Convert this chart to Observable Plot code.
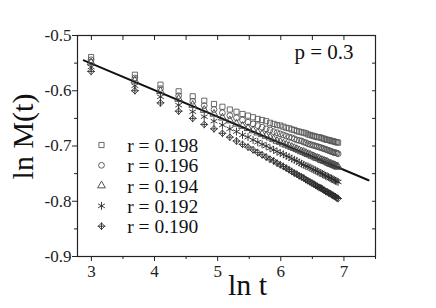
<!DOCTYPE html>
<html><head><meta charset="utf-8">
<script src="https://cdn.jsdelivr.net/npm/d3@7"></script>
<script src="https://cdn.jsdelivr.net/npm/@observablehq/plot@0.6"></script>
<style>body{margin:0;background:#fff}#chart svg{display:block}</style>
</head><body><div id="chart"></div>
<script>
const tValues = [20,40,60,80,100,120,140,160,180,200,220,240,260,280,300,320,340,360,380,400,420,440,460,480,500,520,540,560,580,600,620,640,660,680,700,720,740,760,780,800,820,840,860,880,900,920,940,960,980,1000];
const seriesLabels = ["r = 0.198","r = 0.196","r = 0.194","r = 0.192","r = 0.190"];
const seriesSymbols = ["square","circle","triangle","asterisk","diamond2"];
const seriesColors = ["#5a5a5a","#505050","#404040","#2a2a2a","#2a2a2a"];
const seriesSizes = [2.9, 2.9, 2.9, 3.7, 2.9];
const r198 = [-0.539,-0.571,-0.589,-0.601,-0.610,-0.618,-0.624,-0.629,-0.634,-0.638,-0.642,-0.645,-0.648,-0.651,-0.653,-0.655,-0.658,-0.660,-0.662,-0.663,-0.665,-0.667,-0.668,-0.670,-0.671,-0.673,-0.674,-0.675,-0.676,-0.677,-0.679,-0.680,-0.681,-0.682,-0.683,-0.684,-0.684,-0.685,-0.686,-0.687,-0.688,-0.689,-0.689,-0.690,-0.691,-0.691,-0.692,-0.693,-0.693,-0.694];
const r196 = [-0.544,-0.577,-0.596,-0.609,-0.619,-0.627,-0.634,-0.640,-0.645,-0.649,-0.653,-0.657,-0.660,-0.663,-0.666,-0.669,-0.671,-0.674,-0.676,-0.678,-0.680,-0.682,-0.684,-0.685,-0.687,-0.689,-0.690,-0.691,-0.693,-0.694,-0.696,-0.697,-0.698,-0.699,-0.700,-0.701,-0.702,-0.703,-0.704,-0.705,-0.706,-0.707,-0.708,-0.709,-0.710,-0.711,-0.712,-0.712,-0.713,-0.714];
const r194 = [-0.549,-0.582,-0.601,-0.615,-0.626,-0.635,-0.642,-0.649,-0.654,-0.660,-0.664,-0.668,-0.672,-0.676,-0.679,-0.682,-0.685,-0.688,-0.691,-0.693,-0.696,-0.698,-0.700,-0.702,-0.704,-0.706,-0.708,-0.710,-0.711,-0.713,-0.715,-0.716,-0.718,-0.719,-0.721,-0.722,-0.723,-0.725,-0.726,-0.727,-0.728,-0.729,-0.731,-0.732,-0.733,-0.734,-0.735,-0.736,-0.737,-0.738];
const r192 = [-0.557,-0.591,-0.611,-0.626,-0.638,-0.647,-0.655,-0.662,-0.669,-0.674,-0.680,-0.684,-0.689,-0.693,-0.697,-0.700,-0.704,-0.707,-0.710,-0.713,-0.715,-0.718,-0.720,-0.723,-0.725,-0.727,-0.730,-0.732,-0.734,-0.736,-0.737,-0.739,-0.741,-0.743,-0.744,-0.746,-0.748,-0.749,-0.751,-0.752,-0.754,-0.755,-0.756,-0.758,-0.759,-0.760,-0.762,-0.763,-0.764,-0.765];
const r190 = [-0.565,-0.600,-0.622,-0.637,-0.650,-0.661,-0.669,-0.677,-0.684,-0.691,-0.697,-0.702,-0.707,-0.712,-0.716,-0.720,-0.724,-0.727,-0.731,-0.734,-0.737,-0.740,-0.743,-0.746,-0.749,-0.751,-0.754,-0.756,-0.758,-0.761,-0.763,-0.765,-0.767,-0.769,-0.771,-0.773,-0.775,-0.776,-0.778,-0.780,-0.782,-0.783,-0.785,-0.786,-0.788,-0.789,-0.791,-0.792,-0.794,-0.795];
const fitLineX = [2.88, 7.39];
const fitLineY = [-0.545, -0.762];
const xMajorTicks = [3,4,5,6,7];
const xMinorTicks = [3.5,4.5,5.5,6.5,7.5];
const yMajorTicks = [-0.9,-0.8,-0.7,-0.6,-0.5];
const yMinorTicks = [-0.85,-0.75,-0.65,-0.55];
const xLabel = "ln t";
const yLabel = "ln M(t)";
const annotation = "p = 0.3";

const seriesValues = [r198, r196, r194, r192, r190];
const lnT = tValues.map(t => Math.log(t));
const tables = seriesValues.map((vals, i) => vals.map((v, j) => ({x: lnT[j], y: v, series: seriesLabels[i]})));
const fitLine = fitLineX.map((x, i) => ({x, y: fitLineY[i]}));
const font = "Liberation Serif";

const marks = [
  Plot.frame({stroke: "#222", strokeWidth: 1.2}),
  Plot.axisX(xMajorTicks, {anchor: "bottom", tickSize: 5, tickPadding: 3, fontSize: 17, fontFamily: font, label: null, tickFormat: d => String(d)}),
  Plot.axisX(xMinorTicks, {anchor: "bottom", tickSize: 3, tickFormat: () => "", label: null}),
  Plot.axisX([...xMajorTicks, ...xMinorTicks], {anchor: "top", tickSize: -4, tickFormat: () => "", label: null}),
  Plot.axisY(yMajorTicks, {anchor: "left", tickSize: 5, tickPadding: 1, fontSize: 17, fontFamily: font, label: null, tickFormat: d => d.toFixed(1)}),
  Plot.axisY(yMinorTicks, {anchor: "left", tickSize: 3, tickFormat: () => "", label: null}),
  Plot.axisY([...yMajorTicks, ...yMinorTicks], {anchor: "right", tickSize: -4, tickFormat: () => "", label: null}),
  Plot.line(fitLine, {x: "x", y: "y", stroke: "#111", strokeWidth: 2})
];
tables.forEach((tab, i) => {
  marks.push(Plot.dot(tab, {x: "x", y: "y", symbol: () => seriesSymbols[i], r: seriesSizes[i], stroke: seriesColors[i], fill: "none", strokeWidth: 0.9}));
  if (seriesSymbols[i] === "diamond2") marks.push(Plot.dot(tab, {x: "x", y: "y", symbol: () => "plus", r: 2.6, stroke: seriesColors[i], fill: "none", strokeWidth: 0.9}));
});
seriesLabels.forEach((lab, i) => {
  marks.push(Plot.dot([lab], {frameAnchor: "top-left", dx: 24, dy: 109.5 + i * 20.3, symbol: () => seriesSymbols[i], r: seriesSizes[i], stroke: seriesColors[i], fill: "none", strokeWidth: 0.9}));
  if (seriesSymbols[i] === "diamond2") marks.push(Plot.dot([lab], {frameAnchor: "top-left", dx: 24, dy: 109.5 + i * 20.3, symbol: () => "plus", r: 2.6, stroke: seriesColors[i], fill: "none", strokeWidth: 0.9}));
  marks.push(Plot.text([lab], {frameAnchor: "top-left", text: d => d, dx: 49.7, dy: 116.5 + i * 20.3, textAnchor: "start", lineAnchor: "bottom", fontSize: 19.5, fontFamily: font, fill: "#111"}));
});
marks.push(Plot.text([annotation], {frameAnchor: "top-right", text: d => d, dx: -22, dy: 23.3, textAnchor: "end", lineAnchor: "bottom", fontSize: 21, fontFamily: font, fill: "#111"}));
marks.push(Plot.text([xLabel], {frameAnchor: "bottom", text: d => d, dx: 21, dy: 38.3, textAnchor: "middle", lineAnchor: "bottom", fontSize: 30, fontFamily: font, fill: "#111"}));
marks.push(Plot.text([yLabel], {frameAnchor: "left", text: d => d, dx: -45, dy: -9.5, rotate: -90, textAnchor: "middle", lineAnchor: "bottom", fontSize: 30, fontFamily: font, fill: "#111"}));

const chart = Plot.plot({
  width: 436, height: 308,
  marginLeft: 77, marginRight: 61, marginTop: 35, marginBottom: 52,
  style: {fontFamily: font, background: "white", color: "#222"},
  x: {domain: [2.78, 7.5]},
  y: {domain: [-0.9, -0.5]},
  marks
});
document.getElementById("chart").appendChild(chart);
</script></body></html>
